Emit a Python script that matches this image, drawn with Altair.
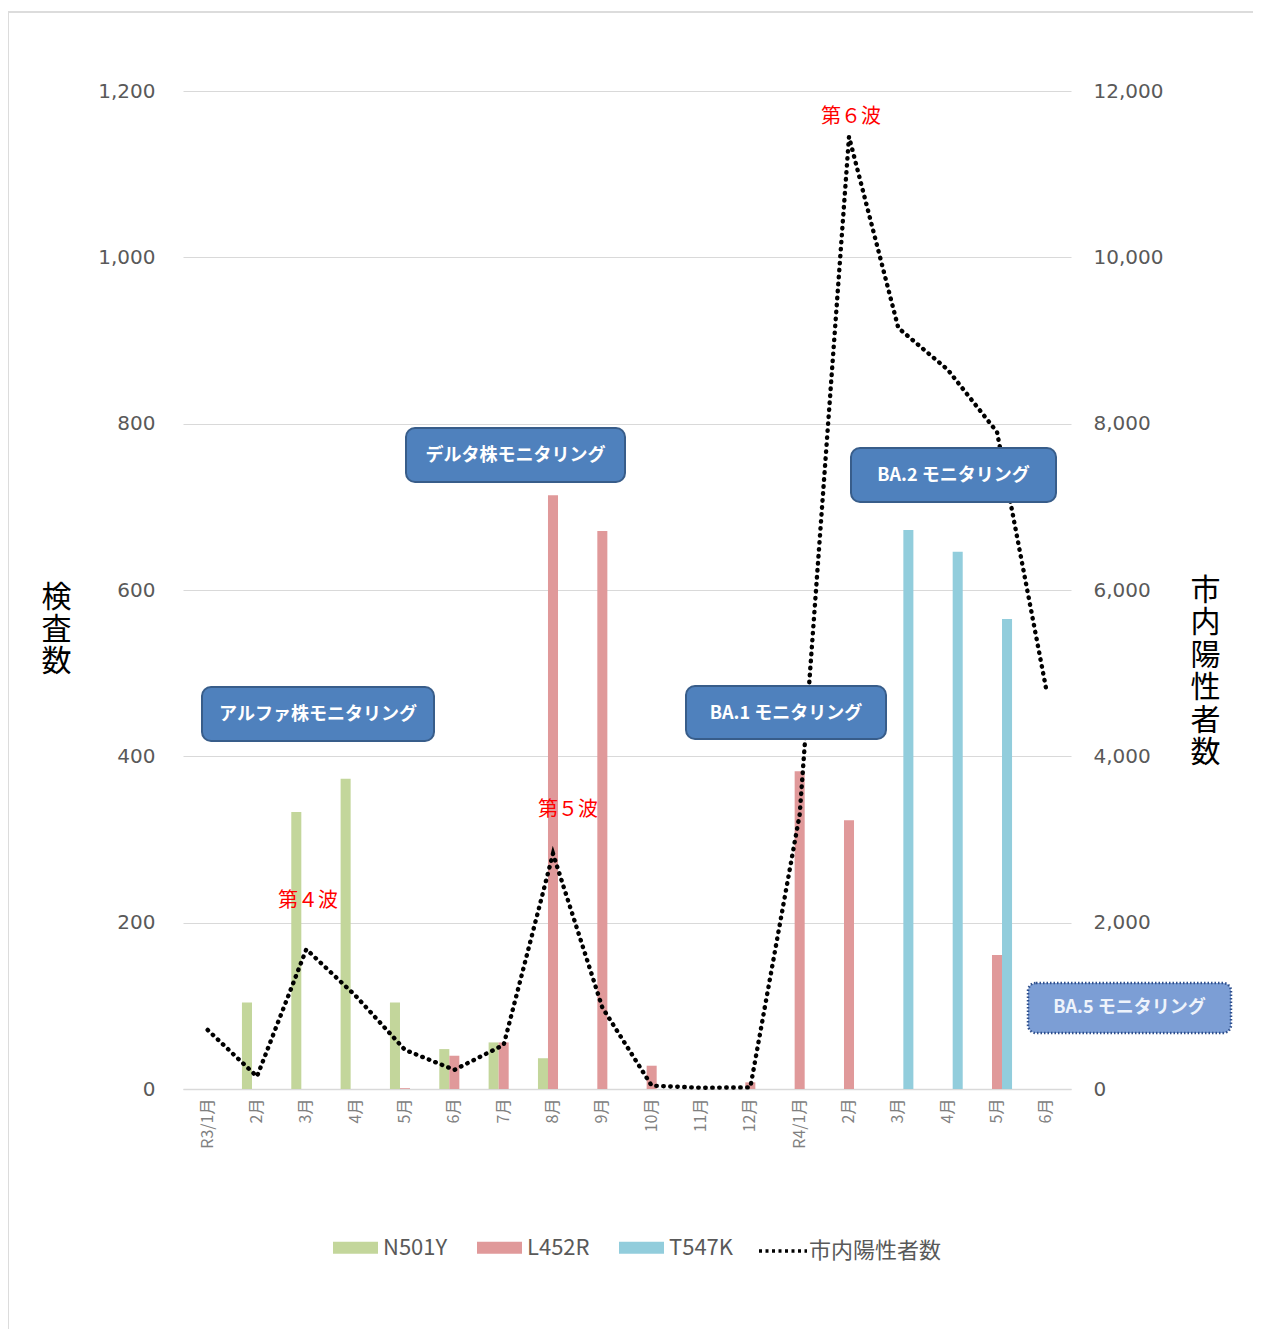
import altair as alt
import pandas as pd

FONT = "Noto Sans CJK JP"
NUMFONT = "DejaVu Sans"

# ---- data ----
months = ["R3/1月", "R3/2月", "R3/3月", "R3/4月", "R3/5月", "R3/6月", "R3/7月", "R3/8月",
          "R3/9月", "R3/10月", "R3/11月", "R3/12月", "R4/1月", "R4/2月", "R4/3月", "R4/4月",
          "R4/5月", "R4/6月"]
series = ["N501Y", "L452R", "T547K"]
n501y = [0, 104, 333, 373, 104, 48, 56, 37, 0, 0, 0, 0, 0, 0, 0, 0, 0, 0]
l452r = [0, 0, 0, 0, 1, 40, 56, 714, 671, 28, 0, 8, 382, 323, 0, 0, 161, 0]
t547k = [0, 0, 0, 0, 0, 0, 0, 0, 0, 0, 0, 0, 0, 0, 672, 646, 565, 0]
positives = [710, 150, 1680, 1120, 470, 230, 530, 2830, 980, 40, 15, 20, 3300, 11450,
             9150, 8650, 7900, 4800]
line_name = "市内陽性者数"
colors = ["#c3d69b", "#e0999a", "#92cddc"]

left_ticks = [0, 200, 400, 600, 800, 1000, 1200]
right_ticks = [0, 2000, 4000, 6000, 8000, 10000, 12000]

# annotation boxes (pixel positions relative to plot area)
box_text = ["アルファ株モニタリング", "デルタ株モニタリング", "BA.1 モニタリング", "BA.2 モニタリング"]
box_x1 = [19, 223, 503, 668]
box_x2 = [251, 442, 703, 873]
box_y1 = [596, 337, 595, 357]
box_y2 = [650, 391, 648, 411]
ba5_text = ["BA.5 モニタリング"]
ba5_x1, ba5_x2, ba5_y1, ba5_y2 = [845], [1048], [892], [942]

wave_text = ["第４波", "第５波", "第６波"]
wave_x = [125, 385, 668]
wave_y = [810, 719, 26]

W, H = 888, 998

rows = []
for i, m in enumerate(months):
    for s, vals in zip(series, [n501y, l452r, t547k]):
        rows.append({"month": m, "series": s, "value": vals[i]})
df_bar = pd.DataFrame(rows)
df_line = pd.DataFrame({"month": months, "positives": positives, "label": line_name})

label_expr = r"test(/\/1月$/, datum.value) ? datum.value : split(datum.value, '/')[1]"

bars = alt.Chart(df_bar).mark_bar().encode(
    x=alt.X("month:N", sort=months,
            scale=alt.Scale(domain=months, paddingInner=0.39, paddingOuter=0.195),
            axis=alt.Axis(title=None, labelAngle=270, labelExpr=label_expr, labelFontSize=16,
                          labelColor="#808080", labelFont=FONT, ticks=False, grid=False,
                          domainColor="#d9d9d9", domainWidth=1.5, labelPadding=9)),
    xOffset=alt.XOffset("series:N", scale=alt.Scale(domain=series, paddingInner=0, paddingOuter=0)),
    y=alt.Y("value:Q", scale=alt.Scale(domain=[0, 1200], nice=False),
            axis=alt.Axis(values=left_ticks, format=",.0f", grid=True, gridColor="#d9d9d9",
                          domain=False, ticks=False, labelFontSize=20, labelColor="#595959",
                          labelFont=NUMFONT, labelPadding=28,
                          title=["検", "査", "数"], titleAngle=0, titleX=-127, titleY=506,
                          titleAlign="center", titleBaseline="middle", titleFontSize=30,
                          titleFontWeight="normal", titleColor="#000000", titleFont=FONT,
                          titleLineHeight=32)),
    color=alt.Color("series:N", scale=alt.Scale(domain=series, range=colors),
                    legend=alt.Legend(title=None, orient="none", legendX=150, legendY=1134,
                                      direction="horizontal",
                                      symbolType="M-1,-0.27L1,-0.27L1,0.27L-1,0.27Z",
                                      symbolSize=2025, symbolStrokeWidth=0, symbolOpacity=1,
                                      labelFontSize=22, labelColor="#595959", labelFont=FONT,
                                      labelOffset=5, columnPadding=29)),
)

line = alt.Chart(df_line).mark_line(strokeDash=[0.5, 6.5], strokeCap="round", strokeWidth=4.4).encode(
    x=alt.X("month:N", sort=months),
    y=alt.Y("positives:Q", scale=alt.Scale(domain=[0, 12000], nice=False),
            axis=alt.Axis(orient="right", values=right_ticks, format=",.0f", grid=False,
                          domain=False, ticks=False, labelFontSize=20, labelColor="#595959",
                          labelFont=NUMFONT, labelPadding=22,
                          title=["市", "内", "陽", "性", "者", "数"], titleAngle=0, titleX=134,
                          titleY=499, titleAlign="center", titleBaseline="middle",
                          titleFontSize=30, titleFontWeight="normal", titleColor="#000000",
                          titleFont=FONT, titleLineHeight=32.5)),
    stroke=alt.Stroke("label:N", scale=alt.Scale(domain=[line_name], range=["#000000"]),
                      legend=alt.Legend(title=None, orient="none", legendX=574, legendY=1134,
                                        symbolType="stroke", symbolSize=2304,
                                        symbolDash=[3, 3.5], symbolStrokeWidth=3.5,
                                        labelFontSize=22, labelColor="#595959", labelFont=FONT,
                                        labelOffset=0)),
)

df_box = pd.DataFrame({"t": box_text, "x1": box_x1, "x2": box_x2, "y1": box_y1, "y2": box_y2})
df_box["xc"] = (df_box.x1 + df_box.x2) / 2
df_box["yc"] = (df_box.y1 + df_box.y2) / 2
df_ba5 = pd.DataFrame({"t": ba5_text, "x1": ba5_x1, "x2": ba5_x2, "y1": ba5_y1, "y2": ba5_y2})
df_ba5["xc"] = (df_ba5.x1 + df_ba5.x2) / 2
df_ba5["yc"] = (df_ba5.y1 + df_ba5.y2) / 2


def px(field):
    return alt.X(field, type="quantitative", scale=None, axis=None)


def py(field):
    return alt.Y(field, type="quantitative", scale=None, axis=None)


boxes = alt.Chart(df_box).mark_rect(fill="#4f81bd", stroke="#385d8a", strokeWidth=2,
                                    cornerRadius=9).encode(
    x=px("x1"), x2="x2", y=py("y1"), y2="y2")
box_labels = alt.Chart(df_box).mark_text(font=FONT, fontSize=18, fontWeight="bold",
                                         color="white", dy=1).encode(
    x=px("xc"), y=py("yc"), text="t:N")

ba5 = alt.Chart(df_ba5).mark_rect(fill="#7c9ed5", stroke="#2f4f8c", strokeWidth=2.5,
                                  strokeDash=[1.5, 2], cornerRadius=8).encode(
    x=px("x1"), x2="x2", y=py("y1"), y2="y2")
ba5_label = alt.Chart(df_ba5).mark_text(font=FONT, fontSize=18, fontWeight="bold",
                                        color="#eef3fb").encode(
    x=px("xc"), y=py("yc"), text="t:N")

df_wave = pd.DataFrame({"t": wave_text, "x": wave_x, "y": wave_y})
waves = alt.Chart(df_wave).mark_text(font=FONT, fontSize=20, color="#ff0000").encode(
    x=px("x"), y=py("y"), text="t:N")

df_frame = pd.DataFrame({"x1": [-175], "x2": [1150], "y1": [-79], "y2": [1247]})
frame = alt.Chart(df_frame).mark_rect(fill=None, stroke="#dcdcdc", strokeWidth=2).encode(
    x=px("x1"), x2="x2", y=py("y1"), y2="y2")

chart = alt.layer(bars, line, boxes, box_labels, ba5, ba5_label, waves, frame).resolve_scale(
    y="independent", color="independent"
).properties(
    width=W, height=H,
    autosize=alt.AutoSizeParams(type="none"),
    padding={"left": 175, "top": 83, "right": 182, "bottom": 240},
    background="white",
).configure_view(stroke=None)

chart.save("out.html", embed_options={"renderer": "svg", "actions": False})
